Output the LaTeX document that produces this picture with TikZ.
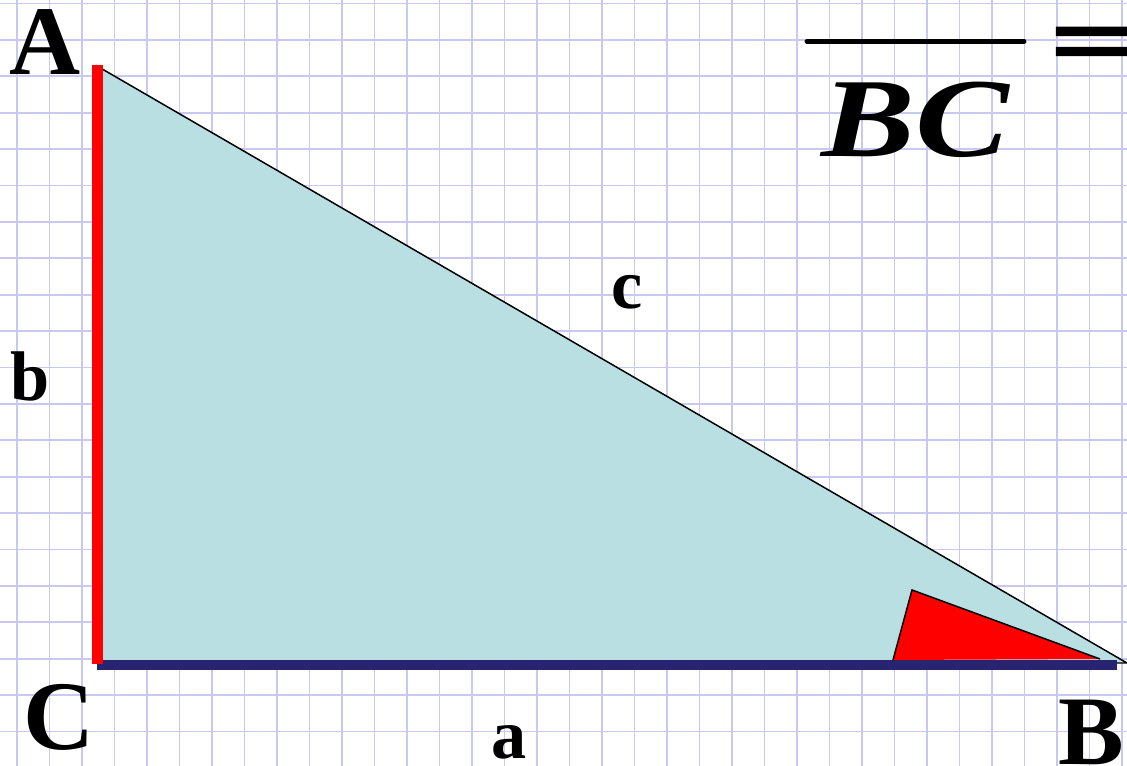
\documentclass[tikz,border=0pt]{standalone}
\usepackage{fontspec}
\setmainfont{Liberation Serif}
\newfontfamily\heavyeq[FakeBold=4.5]{Liberation Sans}
\usepackage{graphicx}
\definecolor{gridc}{RGB}{200,200,240}
\definecolor{trifill}{RGB}{185,223,226}
\definecolor{navy}{RGB}{40,36,112}
\definecolor{redc}{RGB}{255,0,0}
\tikzset{
  vlabel/.style={anchor=base, font=\fontsize{56}{60}\selectfont\bfseries, inner sep=0pt},
  slabel/.style={anchor=base, font=\fontsize{40}{44}\selectfont\bfseries, inner sep=0pt},
  gridline/.style={draw=gridc, line width=1.1pt}
}
\begin{document}
\begin{tikzpicture}[x=0.02cm, y=-0.02cm]
\useasboundingbox (0,0) rectangle (1127,766);
\fill[white] (0,0) rectangle (1127,766);
\begin{scope}
\clip (0,0) rectangle (1127,766);
% grid
\foreach \k in {0,...,34} \draw[gridline] ({17+32.5*\k},0) -- ({17+32.5*\k},766);
\foreach \k in {0,...,20} \draw[gridline] (0,{3.5+36.4*\k}) -- (1127,{3.5+36.4*\k});

% triangle
\coordinate (A) at (97,66);
\coordinate (C) at (97,663);
\coordinate (B) at (1127,663);
\filldraw[fill=trifill, draw=black, line width=0.85pt] (A) -- (B) -- (C) -- cycle;
% legs
\coordinate (Ctop) at (97.5,664);
\coordinate (Atop) at (97.5,65);
\coordinate (Cb) at (97,665);
\coordinate (Bb) at (1117,665);
\draw[navy, line width=6.2pt] (Cb) -- (Bb);
\draw[redc, line width=6.2pt] (Atop) -- (Ctop);
% angle marker
\coordinate (m1) at (893,660);
\coordinate (m2) at (912,590);
\coordinate (m3) at (1100,659);
\fill[redc] (m1) -- (m2) -- (m3) -- cycle;
\draw[black, line width=0.85pt] (m1) -- (m2) -- (m3);

% labels
\node[vlabel] (lA) at (45,75) {A};
\node[vlabel] (lC) at (59,750) {C};
\node[vlabel] (lB) at (1091,765) {B};
\node[slabel] (lb) at (30,401) {b};
\node[slabel] (lc) at (627,309) {c};
\node[slabel] (la) at (509,759) {a};

% fraction
\coordinate (f1) at (807,41.5);
\coordinate (f2) at (1024,41.5);
\draw[black, line width=2.8pt, line cap=round] (f1) -- (f2);
\node[anchor=base, inner sep=0pt, font=\fontsize{64}{70}\selectfont\bfseries\itshape] (BC) at (915,157) {\scalebox{1.25}[1]{BC}};
\node[anchor=base west, inner sep=0pt, font=\fontsize{46}{50}\selectfont\heavyeq] (eq) at (1052,68) {\scalebox{1.7}[1]{=}};
\end{scope}
\end{tikzpicture}
\end{document}
